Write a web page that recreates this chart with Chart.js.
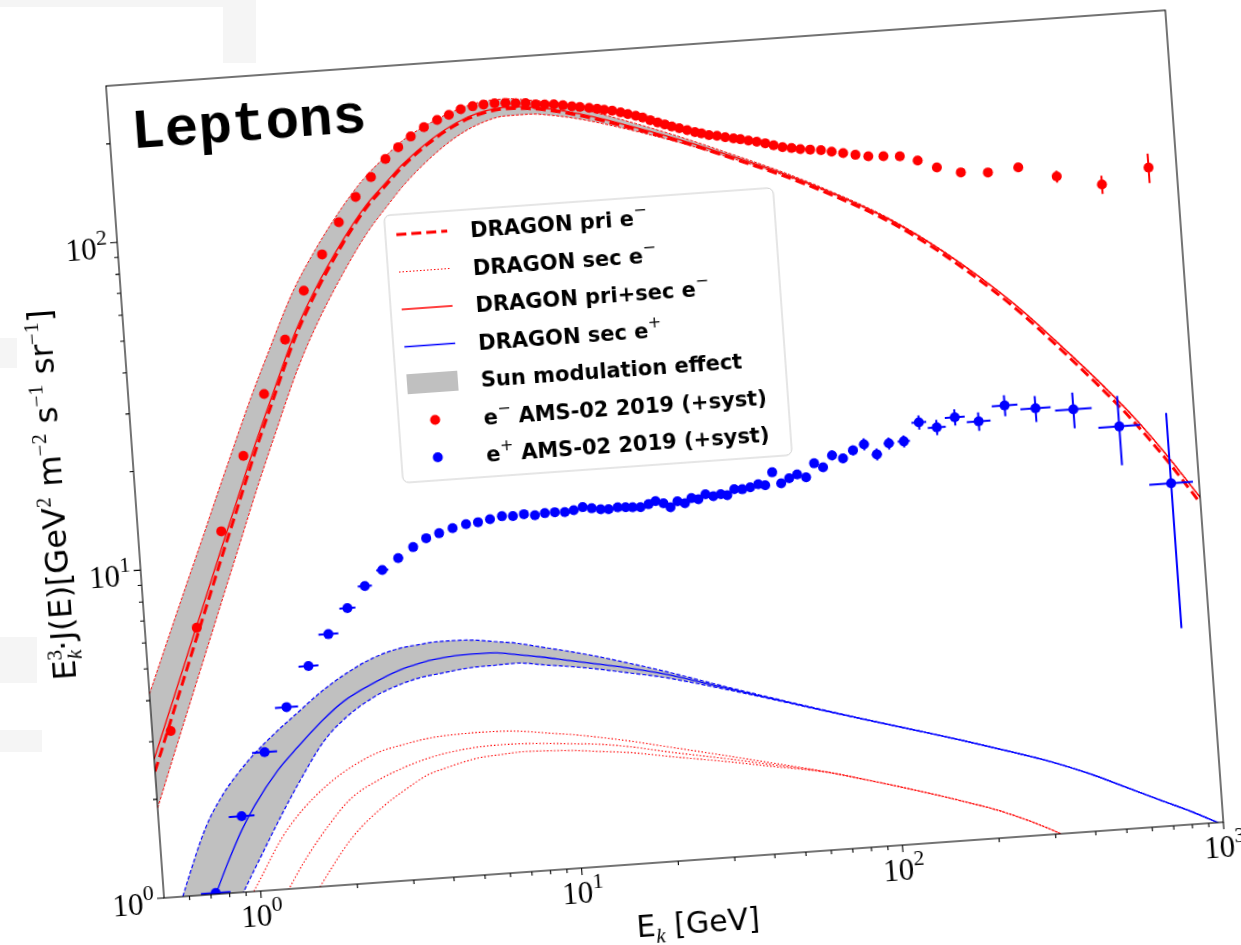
<!DOCTYPE html>
<html>
<head>
<meta charset="utf-8">
<title>Leptons</title>
<script src="https://cdn.jsdelivr.net/npm/chart.js@4.4.1/dist/chart.umd.min.js"></script>
<style>
  html, body { margin: 0; padding: 0; background: #ffffff; overflow: hidden; }
  body { width: 1241px; height: 945px; position: relative; }
  .fantasma { position: absolute; background: #f5f5f5; }
  #moldura { position: absolute; left: -34px; top: 66px; width: 1245px; height: 944px;
             transform-origin: 140px 20px; transform: rotate(-4.09deg); }
</style>
</head>
<body>
<div class="fantasma" style="left:0;top:0;width:256px;height:7px"></div>
<div class="fantasma" style="left:223px;top:0;width:33px;height:63px"></div>
<div class="fantasma" style="left:0;top:338px;width:17px;height:30px"></div>
<div class="fantasma" style="left:0;top:637px;width:37px;height:46px"></div>
<div class="fantasma" style="left:0;top:730px;width:42px;height:22px"></div>
<div id="moldura"><canvas id="grafico" width="1245" height="944"></canvas></div>
<script>
        // grade de energia dos modelos DRAGON (GeV)
        const modelE = [0.5, 0.6, 0.7, 0.8, 0.9, 1, 1.2, 1.4, 1.7, 2, 2.5, 3, 3.5, 4, 5, 6, 7, 8.5, 10, 12,
                        15, 20, 30, 40, 60, 80, 120, 160, 210, 300, 400, 500, 650, 800, 1000];

        const priSecElec = [2.65, 4.14, 6.04, 8.37, 11.17, 14.4, 22.4, 31.8, 48.7, 64.9, 90.5, 114, 132.5, 150, 176.5, 195, 206, 212, 210, 204,
                            193, 176.4, 153.3, 137, 116, 101.5, 82, 68, 55.3, 40.6, 30.3, 23.9, 17.7, 13.5, 9.8];
        const priElec = [2.43, 3.84, 5.64, 7.87, 10.57, 13.68, 21.43, 30.58, 47.15, 63.07, 88.44, 111.78, 130.18, 147.61, 174.05, 192.54, 203.54, 209.57, 207.61, 201.64,
                         190.72, 174.25, 151.31, 135.12, 114.27, 99.89, 80.57, 66.69, 54.1, 39.58, 29.44, 23.15, 17.1, 13.0, 9.4];
        const priSecElecHigh = [4.19, 6.42, 9.18, 12.47, 16.42, 20.9, 31.6, 43.6, 64.3, 83.1, 112.2, 137.9, 157.7, 175.5, 197.7, 212.6, 221.5, 224.7, 220.5, 213.2,
                                200.1, 181.7, 156.4, 139.1, 117.2, 102.3, 82.5, 68.3, 55.5, 40.7, 30.4, 24.0, 17.75, 13.53, 9.82];
        const priSecElecLow = [1.88, 2.98, 4.38, 6.11, 8.21, 10.66, 16.8, 24.2, 37.7, 51.3, 73.3, 94.6, 112.6, 129.8, 157.1, 177.5, 190.6, 199.3, 199.5, 195.2,
                               186.2, 171.5, 150.2, 134.9, 114.8, 100.7, 81.5, 67.7, 55.1, 40.5, 30.2, 23.8, 17.65, 13.47, 9.78];

        const secPos = [0.44, 0.66, 0.925, 1.229, 1.54, 1.82, 2.30, 2.68, 3.20, 3.62, 4.05, 4.36, 4.54, 4.64, 4.715, 4.70, 4.598, 4.448, 4.306, 4.155,
                        3.983, 3.725, 3.298, 3.025, 2.681, 2.466, 2.199, 2.024, 1.864, 1.665, 1.492, 1.35, 1.20, 1.095, 0.98];
        const secPosHigh = [0.7, 1.128, 1.611, 1.992, 2.293, 2.556, 2.992, 3.368, 3.896, 4.314, 4.809, 5.07, 5.17, 5.23, 5.21, 5.09, 4.98, 4.769, 4.599, 4.399,
                            4.133, 3.797, 3.33, 3.043, 2.689, 2.47, 2.201, 2.025, 1.865, 1.666, 1.493, 1.351, 1.201, 1.096, 0.98];
        const secPosLow = [0.25, 0.4, 0.58, 0.825, 1.03, 1.231, 1.667, 2.117, 2.769, 3.21, 3.681, 3.947, 4.105, 4.179, 4.288, 4.31, 4.326, 4.214, 4.126, 4.011,
                           3.845, 3.632, 3.265, 3.01, 2.676, 2.463, 2.197, 2.023, 1.863, 1.664, 1.491, 1.349, 1.199, 1.094, 0.98];

        const secElecHigh = [0.36, 0.47, 0.611, 0.756, 0.914, 1.08, 1.44, 1.72, 2.03, 2.252, 2.49, 2.593, 2.666, 2.70, 2.716, 2.71, 2.68, 2.609, 2.555, 2.477,
                             2.374, 2.228, 2.037, 1.907, 1.737, 1.607, 1.432, 1.312, 1.197, 1.02, 0.862, 0.75, 0.6, 0.5, 0.4];
        const secElecMid = [0.22, 0.3, 0.4, 0.5, 0.6, 0.72, 0.968, 1.218, 1.549, 1.826, 2.065, 2.216, 2.32, 2.386, 2.451, 2.464, 2.457, 2.427, 2.394, 2.357,
                            2.28, 2.151, 1.995, 1.883, 1.734, 1.607, 1.432, 1.312, 1.197, 1.02, 0.862, 0.75, 0.6, 0.5, 0.4];
        const secElecLow = [0.1, 0.15, 0.21, 0.28, 0.36, 0.44, 0.65, 0.87, 1.152, 1.405, 1.695, 1.905, 2.071, 2.155, 2.268, 2.303, 2.322, 2.306, 2.284, 2.24,
                            2.188, 2.085, 1.955, 1.858, 1.73, 1.607, 1.432, 1.312, 1.197, 1.02, 0.862, 0.75, 0.6, 0.5, 0.4];

        // AMS-02 2019 (+syst)
        const posE = [0.725, 0.907, 1.104, 1.321, 1.578, 1.849, 2.146, 2.458, 2.807, 3.164,
                      3.541, 3.903, 4.292, 4.737, 5.225, 5.697, 6.215, 6.779, 7.331, 7.938,
                      8.582, 9.222, 9.907, 10.64, 11.35, 12.12, 12.92, 13.77, 14.57, 15.56,
                      16.47, 17.31, 18.32, 19.43, 20.45, 21.62, 22.69, 23.91, 25.20, 26.47,
                      27.80, 29.31, 30.98, 32.71, 34.24, 36.10, 38.22, 40.50, 42.94, 45.11,
                      47.73, 50.61, 53.72, 56.98, 60.65, 64.67, 68.81, 73.81, 79.69, 85.94,
                      93.22, 101.7, 111.4, 124.1, 139.5, 158.1, 180.7, 213.9, 259.5, 323.1,
                      423.2, 582.1, 818.8];
        const posFlux = [1.008, 1.704, 2.634, 3.570, 4.702, 5.822, 6.917, 7.995, 8.865, 9.561,
                         10.25, 10.84, 11.15, 11.47, 11.72, 11.81, 11.99, 12.17, 12.11, 12.21,
                         12.06, 12.17, 12.19, 12.13, 12.25, 12.45, 12.30, 12.16, 12.11, 12.23,
                         12.18, 12.14, 12.09, 12.30, 12.52, 12.29, 11.91, 12.38, 12.16, 12.56,
                         12.42, 12.82, 12.59, 12.72, 12.59, 13.08, 13.03, 13.16, 13.38, 13.25,
                         14.45, 13.32, 13.74, 14.07, 13.72, 15.07, 14.59, 15.79, 15.38, 16.19,
                         16.79, 15.55, 16.69, 16.80, 19.05, 18.23, 19.38, 18.61, 20.54, 19.81,
                         19.30, 16.74, 10.96];
        const posErr = [0, 0, 0, 0, 0, 0, 0, 0, 0, 0,
                        0, 0, 0, 0, 0, 0, 0, 0, 0, 0,
                        0, 0, 0, 0, 0, 0, 0, 0, 0, 0,
                        0, 0, 0, 0, 0, 0, 0, 0, 0, 0,
                        0, 0, 0, 0, 0, 0, 0, 0, 0, 0,
                        0, 0, 0, 0, 0, 0.42, 0.41, 0.55, 0.54, 0.57,
                        0.71, 0.65, 0.70, 0.71, 0.95, 0.97, 1.1, 1.2, 1.5, 1.8,
                        2.4, 4.0, 7.0];
        const posXErrDex = [0.046, 0.040, 0.039, 0.036, 0.031, 0.031, 0.025, 0.022, 0.019, 0.015,
                            0, 0, 0, 0, 0, 0, 0, 0, 0, 0,
                            0, 0, 0, 0, 0, 0, 0, 0, 0, 0,
                            0, 0, 0, 0, 0, 0, 0, 0, 0, 0,
                            0, 0, 0, 0, 0, 0, 0, 0, 0, 0,
                            0, 0, 0, 0, 0, 0.012, 0.012, 0.014, 0.014, 0.015,
                            0.015, 0.016, 0.016, 0.019, 0.023, 0.028, 0.031, 0.037, 0.040, 0.047,
                            0.057, 0.065, 0.068];

        const elecE = [0.571].concat(posE);
        const elecFlux = [3.20, 6.5, 12.6, 21.1, 32.2, 46.6, 65, 83, 103, 122,
                          139, 156.6, 169, 181, 192, 200.5, 206.5, 213.5, 216.8, 218,
                          219, 218, 216.7, 215.8, 213, 211.8, 210.9, 208.6, 206.3, 204.5,
                          202.2, 200, 198, 196, 193, 190, 187, 184, 180, 176.5,
                          173.5, 170.3, 167.7, 164.7, 162, 160, 157.5, 156, 154, 152,
                          150.6, 148.6, 146.8, 144.6, 142, 139.6, 138, 136.4, 135.3, 134,
                          132, 129.8, 127.5, 125.4, 124.5, 123.4, 118.8, 112.1, 107, 105.5,
                          107.6, 99.1, 91.6, 100.7];
        const elecErr = [0, 0, 0, 0, 0, 0, 0, 0, 0, 0,
                         0, 0, 0, 0, 0, 0, 0, 0, 0, 0,
                         0, 0, 0, 0, 0, 0, 0, 0, 0, 0,
                         0, 0, 0, 0, 0, 0, 0, 0, 0, 0,
                         0, 0, 0, 0, 0, 0, 0, 0, 0, 0,
                         0, 0, 0, 0, 0, 0, 0, 0, 0, 0,
                         0, 0, 0, 0, 0, 0, 0, 0, 2, 2,
                         3, 4.2, 5.9, 10.4];

        const xMajorTicks = [1, 10, 100, 1000];
        const xTickExp = ['0', '1', '2', '3'];
        const xMinorTicks = [0.6, 0.7, 0.8, 0.9, 2, 3, 4, 5, 6, 7, 8, 9, 20, 30, 40, 50, 60, 70, 80, 90,
                             200, 300, 400, 500, 600, 700, 800, 900];
        const yMajorTicks = [1, 10, 100];
        const yTickExp = ['0', '1', '2'];
        const yMinorTicks = [2, 3, 4, 5, 6, 7, 8, 9, 20, 30, 40, 50, 60, 70, 80, 90, 200];

        const legendaTextos = ['DRAGON pri e^−', 'DRAGON sec e^−', 'DRAGON pri+sec e^−', 'DRAGON sec e^+',
                               'Sun modulation effect', 'e^− AMS-02 2019 (+syst)', 'e^+ AMS-02 2019 (+syst)'];

        const VERMELHO = '#ff0000';
        const AZUL = '#0000ff';
        const CINZA = '#c0c0c0';

        function serie(xs, ys) {
            return xs.map((x, i) => ({ x: x, y: ys[i] }));
        }

        function criarCurva(dados, cor, largura, tracejado, extra) {
            return Object.assign({
                data: dados,
                borderColor: cor,
                borderWidth: largura,
                borderDash: tracejado,
                pointRadius: 0,
                fill: false,
                cubicInterpolationMode: 'monotone',
                clip: 0,
                order: 5
            }, extra || {});
        }

        function criarPontos(dados, cor) {
            return {
                data: dados,
                showLine: false,
                pointRadius: 5,
                pointBorderWidth: 0,
                pointBackgroundColor: cor,
                borderColor: cor,
                clip: 0,
                order: 0
            };
        }

        // texto com expoentes/indices: partes [{t, f, dy, fica}]
        function desenharTextoRico(ctx, partes, x, y, alinhar) {
            let largura = 0;
            partes.forEach(p => {
                ctx.font = p.f;
                if (!p.fica) largura += ctx.measureText(p.t).width;
            });
            let cx = x;
            if (alinhar === 'center') cx = x - largura / 2;
            if (alinhar === 'right') cx = x - largura;
            ctx.textAlign = 'left';
            ctx.textBaseline = 'alphabetic';
            partes.forEach(p => {
                ctx.font = p.f;
                ctx.fillText(p.t, cx, y + (p.dy || 0));
                if (!p.fica) cx += ctx.measureText(p.t).width;
            });
        }

        function rotuloPotencia(exp) {
            return [
                { t: '10', f: '31px "Liberation Serif"' },
                { t: exp, f: '22px "Liberation Serif"', dy: -14 }
            ];
        }

        const eixosEMoldura = {
            id: 'eixosEMoldura',
            afterDraw(chart) {
                const { ctx, chartArea: a, scales } = chart;
                const sx = scales.x, sy = scales.y;
                ctx.save();
                ctx.strokeStyle = '#000';
                ctx.fillStyle = '#000';
                ctx.lineWidth = 1.1;
                ctx.strokeRect(a.left, a.top, a.right - a.left, a.bottom - a.top);

                ctx.beginPath();
                xMinorTicks.forEach(v => {
                    const px = sx.getPixelForValue(v);
                    ctx.moveTo(px, a.bottom); ctx.lineTo(px, a.bottom + 4);
                });
                xMajorTicks.forEach(v => {
                    const px = sx.getPixelForValue(v);
                    ctx.moveTo(px, a.bottom); ctx.lineTo(px, a.bottom + 7);
                });
                yMinorTicks.forEach(v => {
                    const py = sy.getPixelForValue(v);
                    ctx.moveTo(a.left, py); ctx.lineTo(a.left - 4, py);
                });
                yMajorTicks.forEach(v => {
                    const py = sy.getPixelForValue(v);
                    ctx.moveTo(a.left, py); ctx.lineTo(a.left - 7, py);
                });
                ctx.stroke();

                xMajorTicks.forEach((v, i) => {
                    desenharTextoRico(ctx, rotuloPotencia(xTickExp[i]), sx.getPixelForValue(v), a.bottom + 35, 'center');
                });
                yMajorTicks.forEach((v, i) => {
                    desenharTextoRico(ctx, rotuloPotencia(yTickExp[i]), a.left - 10, sy.getPixelForValue(v) + 15, 'right');
                });

                // titulos dos eixos
                const F = '30px "DejaVu Sans"';
                const Fy = '32px "DejaVu Sans"';
                const S = '21px "Liberation Serif"';
                const Si = 'italic 21px "Liberation Serif"';
                desenharTextoRico(ctx, [
                    { t: 'E', f: F }, { t: 'k', f: Si, dy: 7 }, { t: ' [GeV]', f: F }
                ], (a.left + a.right) / 2, a.bottom + 73, 'center');

                ctx.save();
                ctx.translate(a.left - 72, a.top + 404);
                ctx.rotate(-Math.PI / 2);
                desenharTextoRico(ctx, [
                    { t: 'E', f: Fy }, { t: '3', f: S, dy: -13, fica: true }, { t: 'k', f: Si, dy: 7 },
                    { t: '·J(E)[GeV', f: Fy }, { t: '2', f: S, dy: -13 },
                    { t: ' m', f: Fy }, { t: '−2', f: S, dy: -13 },
                    { t: ' s', f: Fy }, { t: '−1', f: S, dy: -13 },
                    { t: ' sr', f: Fy }, { t: '−1', f: S, dy: -13 },
                    { t: ']', f: Fy }
                ], 0, 0, 'center');
                ctx.restore();

                ctx.font = 'bold 56px "Liberation Mono"';
                ctx.textAlign = 'left';
                ctx.textBaseline = 'alphabetic';
                ctx.fillText('Leptons', a.left + 22, a.top + 64);
                ctx.restore();
            }
        };

        const barrasDeErro = {
            id: 'barrasDeErro',
            afterDatasetsDraw(chart) {
                const { ctx, chartArea: a, scales: { x, y } } = chart;
                ctx.save();
                ctx.beginPath();
                ctx.rect(a.left, a.top, a.right - a.left, a.bottom - a.top);
                ctx.clip();
                ctx.lineWidth = 2;

                ctx.strokeStyle = VERMELHO;
                ctx.beginPath();
                elecE.forEach((e, i) => {
                    if (!elecErr[i]) return;
                    const px = x.getPixelForValue(e);
                    ctx.moveTo(px, y.getPixelForValue(elecFlux[i] - elecErr[i]));
                    ctx.lineTo(px, y.getPixelForValue(elecFlux[i] + elecErr[i]));
                });
                ctx.stroke();

                ctx.strokeStyle = AZUL;
                ctx.beginPath();
                posE.forEach((e, i) => {
                    const px = x.getPixelForValue(e);
                    const py = y.getPixelForValue(posFlux[i]);
                    if (posErr[i]) {
                        ctx.moveTo(px, y.getPixelForValue(posFlux[i] - posErr[i]));
                        ctx.lineTo(px, y.getPixelForValue(posFlux[i] + posErr[i]));
                    }
                    if (posXErrDex[i]) {
                        const k = Math.pow(10, posXErrDex[i]);
                        ctx.moveTo(x.getPixelForValue(e / k), py);
                        ctx.lineTo(x.getPixelForValue(e * k), py);
                    }
                });
                ctx.stroke();
                ctx.restore();
            }
        };

        const legendaManual = {
            id: 'legendaManual',
            afterDraw(chart) {
                const { ctx, chartArea: a } = chart;
                const L = a.left + 268, T = a.top + 149, W = 390, H = 268;
                ctx.save();
                ctx.beginPath();
                ctx.roundRect(L, T, W, H, 6);
                ctx.fillStyle = 'rgba(255,255,255,0.85)';
                ctx.fill();
                ctx.strokeStyle = '#cccccc';
                ctx.lineWidth = 1;
                ctx.stroke();

                const h0 = a.left + 279, h1 = a.left + 330, hc = (h0 + h1) / 2;
                const tx = a.left + 353;
                legendaTextos.forEach((texto, i) => {
                    const cy = a.top + 169 + 37.5 * i;
                    ctx.setLineDash([]);
                    if (i === 0) {
                        ctx.strokeStyle = VERMELHO; ctx.lineWidth = 3; ctx.setLineDash([10, 5]);
                        ctx.beginPath(); ctx.moveTo(h0, cy); ctx.lineTo(h1, cy); ctx.stroke();
                    } else if (i === 1) {
                        ctx.strokeStyle = VERMELHO; ctx.lineWidth = 1.1; ctx.setLineDash([1.5, 2]);
                        ctx.beginPath(); ctx.moveTo(h0, cy); ctx.lineTo(h1, cy); ctx.stroke();
                    } else if (i === 2 || i === 3) {
                        ctx.strokeStyle = i === 2 ? VERMELHO : AZUL; ctx.lineWidth = 1.3;
                        ctx.beginPath(); ctx.moveTo(h0, cy); ctx.lineTo(h1, cy); ctx.stroke();
                    } else if (i === 4) {
                        ctx.fillStyle = CINZA;
                        ctx.fillRect(h0, cy - 10, h1 - h0, 20);
                    } else {
                        ctx.fillStyle = i === 5 ? VERMELHO : AZUL;
                        ctx.beginPath(); ctx.arc(hc, cy, 5, 0, Math.PI * 2); ctx.fill();
                    }
                    ctx.setLineDash([]);
                    ctx.fillStyle = '#000';
                    const partes = [];
                    texto.split(/(\^.)/).forEach(seg => {
                        if (!seg) return;
                        if (seg[0] === '^') partes.push({ t: seg[1], f: '16px "DejaVu Sans"', dy: -10 });
                        else partes.push({ t: seg, f: 'bold 21px "DejaVu Sans"' });
                    });
                    desenharTextoRico(ctx, partes, tx, cy + 8, 'left');
                });
                ctx.restore();
            }
        };

        function criarGraficoLeptons() {
            const ctx = document.getElementById('grafico').getContext('2d');
            new Chart(ctx, {
                type: 'line',
                data: {
                    datasets: [
                        criarCurva(serie(modelE, priSecElecHigh), VERMELHO, 1, [3, 1.5], { fill: 1, backgroundColor: CINZA }),
                        criarCurva(serie(modelE, priSecElecLow), VERMELHO, 1, [3, 1.5]),
                        criarCurva(serie(modelE, secPosHigh), AZUL, 1.2, [4, 2], { fill: 3, backgroundColor: CINZA }),
                        criarCurva(serie(modelE, secPosLow), AZUL, 1.2, [4, 2]),
                        criarCurva(serie(modelE, priElec), VERMELHO, 3, [10, 5], { order: 2 }),
                        criarCurva(serie(modelE, priSecElec), VERMELHO, 1.3, [], { order: 1 }),
                        criarCurva(serie(modelE, secPos), AZUL, 1.3, [], { order: 1 }),
                        criarCurva(serie(modelE, secElecHigh), VERMELHO, 1.1, [1.5, 2]),
                        criarCurva(serie(modelE, secElecMid), VERMELHO, 1.1, [1.5, 2]),
                        criarCurva(serie(modelE, secElecLow), VERMELHO, 1.1, [1.5, 2]),
                        criarPontos(serie(elecE, elecFlux), VERMELHO),
                        criarPontos(serie(posE, posFlux), AZUL)
                    ]
                },
                options: {
                    responsive: false,
                    maintainAspectRatio: false,
                    animation: false,
                    devicePixelRatio: 1,
                    events: [],
                    layout: { padding: { left: 0, top: 20, right: 43, bottom: 0 } },
                    plugins: {
                        legend: { display: false },
                        tooltip: { enabled: false },
                        filler: { propagate: false, drawTime: 'beforeDatasetsDraw' }
                    },
                    scales: {
                        x: {
                            type: 'logarithmic',
                            min: 0.5,
                            max: 1000,
                            ticks: { display: false },
                            grid: { display: false },
                            border: { display: false },
                            afterFit: (escala) => { escala.height = 110; }
                        },
                        y: {
                            type: 'logarithmic',
                            min: 1,
                            max: 300,
                            ticks: { display: false },
                            grid: { display: false },
                            border: { display: false },
                            afterFit: (escala) => { escala.width = 140; }
                        }
                    }
                },
                plugins: [barrasDeErro, eixosEMoldura, legendaManual]
            });
        }

        document.addEventListener('DOMContentLoaded', criarGraficoLeptons);
</script>
</body>
</html>
